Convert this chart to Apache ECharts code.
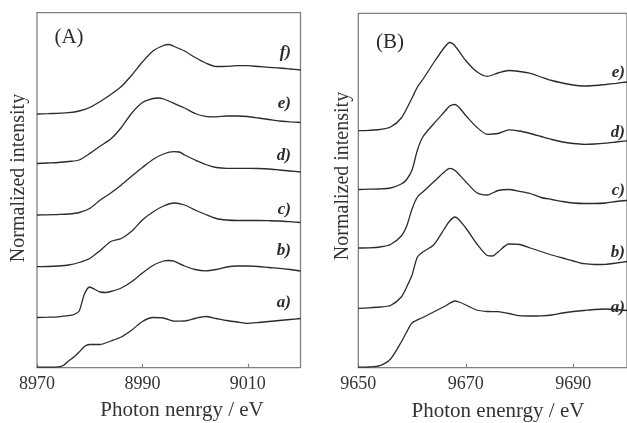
<!DOCTYPE html>
<html>
<head>
<meta charset="utf-8">
<script src="https://cdn.jsdelivr.net/npm/echarts@6/dist/echarts.min.js"></script>
<style>
  html, body { margin: 0; padding: 0; background: #fff; }
  #chart { width: 627px; height: 423px; }
</style>
</head>
<body>
<div id="chart"></div>
<script>
// Cu K-edge spectra, panel (A): [photon energy (eV), stacked normalized intensity]
const cuA = [[8970,0.5],[8972,0.5],[8974,0.8],[8975,2.2],[8976,6.7],[8977,10.7],[8978,15.7],[8979,21.2],[8980,23.2],[8982,23.2],[8984,26.7],[8986,30.7],[8988,37.7],[8990,46.2],[8992,50.2],[8994,49.7],[8996,46.5],[8998,46.7],[9000,49.2],[9002,51.2],[9004,49.2],[9006,47.2],[9008,45.7],[9010,44.4],[9012,45.2],[9014,46.2],[9016,47.2],[9018,48.2],[9020,49.2]];
const cuB = [[8970,50.2],[8972,50.5],[8974,50.9],[8976,52],[8977,53.2],[8978,56.7],[8979,73.7],[8980,80.7],[8981,78.2],[8982,75.7],[8983,75.2],[8984,76.2],[8986,79.7],[8988,86.2],[8990,94.7],[8992,102.2],[8994,106.7],[8995,107.2],[8996,106.5],[8998,101.7],[9000,98.2],[9002,96.9],[9004,98.2],[9006,100.7],[9008,101.7],[9010,101.7],[9012,101.2],[9014,100.2],[9016,99.4],[9018,98.2],[9020,96.7]];
const cuC = [[8970,101],[8972,101.2],[8974,101.7],[8976,102.7],[8978,105.2],[8980,109.2],[8982,117.2],[8984,126.2],[8986,129.2],[8988,136.7],[8990,147.7],[8992,155.7],[8994,161.7],[8996,164.7],[8998,162.7],[9000,157.7],[9002,153.2],[9004,149.2],[9006,147.7],[9008,147.2],[9010,147.2],[9012,147.2],[9014,147],[9016,146.7],[9018,146],[9020,145.2]];
const cuD = [[8970,152.7],[8972,152.9],[8974,153.2],[8976,153.7],[8978,155.2],[8980,159.2],[8982,167.7],[8984,174.7],[8986,182.7],[8988,191.7],[8990,200.2],[8992,208.2],[8994,213.7],[8996,216],[8997,215.7],[8998,212.7],[9000,207.7],[9002,203.2],[9004,200.2],[9006,199.4],[9008,199.4],[9010,199.4],[9012,199.2],[9014,198.7],[9016,197.7],[9018,196.7],[9020,195.7]];
const cuE = [[8970,204.2],[8972,204.7],[8974,205.2],[8976,206.2],[8978,207.7],[8980,214.2],[8982,221.7],[8984,228.7],[8986,240.2],[8988,254.7],[8990,265.2],[8992,269.2],[8993,269.7],[8994,268.7],[8996,264.4],[8998,259.7],[9000,254.2],[9002,251.4],[9004,250.9],[9006,251.7],[9008,251.7],[9010,251.2],[9012,249.7],[9014,248.2],[9016,246.7],[9018,245.9],[9020,245.2]];
const cuF = [[8970,253.7],[8972,254],[8974,254.4],[8976,255],[8978,256.7],[8980,260.2],[8982,266.2],[8984,273.2],[8986,281.2],[8988,292.7],[8990,305.7],[8992,316.7],[8994,322.2],[8995,323.2],[8996,321.2],[8998,316.7],[9000,310.2],[9002,304.7],[9004,301.2],[9006,301.4],[9008,302],[9010,302],[9012,301.2],[9014,300.4],[9016,299.7],[9018,298.7],[9020,297.7]];

// Zn K-edge spectra, panel (B)
const znA = [[9650,0.5],[9652,0.7],[9654,2],[9656,8.7],[9658,25.7],[9659,35.7],[9660,44.7],[9662,50.2],[9664,55.7],[9666,61.2],[9668,66.7],[9669,65.2],[9670,62.7],[9672,57.7],[9674,56.2],[9676,56],[9678,54.2],[9680,52],[9682,51.7],[9684,51.9],[9686,52.7],[9688,54.7],[9690,56.2],[9692,57.2],[9694,58.2],[9696,58.7],[9698,58.2],[9700,57.2]];
const znB = [[9650,59.4],[9652,59.9],[9654,60.7],[9656,62.2],[9658,70.7],[9659,80.7],[9660,92.7],[9661,110.7],[9662,115.7],[9664,122.7],[9666,138.7],[9667,146.7],[9668,150.7],[9670,139.7],[9672,124.2],[9674,112.2],[9675,111.7],[9676,115.7],[9678,123.7],[9680,123.2],[9682,119.7],[9684,116.2],[9686,112.7],[9688,109.7],[9690,106.7],[9692,104],[9694,103.2],[9696,103.4],[9698,104.7],[9700,106.2]];
const znC = [[9650,119.7],[9652,119.9],[9654,120.7],[9656,123.2],[9658,131.7],[9659,141.7],[9660,158.7],[9661,170.7],[9662,175.7],[9664,185.7],[9666,195.7],[9667,199.4],[9668,197.2],[9670,186],[9672,175.2],[9674,172.7],[9676,177.2],[9678,178.2],[9680,176.4],[9682,174.2],[9684,170.2],[9686,168.2],[9688,166.2],[9690,164.7],[9692,164.2],[9694,164.2],[9696,164.7],[9698,166.2],[9700,167.2]];
const znD = [[9650,178.2],[9652,178.5],[9654,178.7],[9656,179.7],[9658,183.7],[9659,188.2],[9660,197.7],[9661,217.7],[9662,230.7],[9664,243.7],[9666,255.7],[9667,261.7],[9668,263.2],[9670,252.2],[9672,240.7],[9674,233.4],[9676,234.2],[9678,237.9],[9680,236.7],[9682,234.2],[9684,231.2],[9686,228.2],[9688,225.7],[9690,224.2],[9692,223.4],[9694,223.7],[9696,224.5],[9698,225.7],[9700,226.9]];
const znE = [[9650,237],[9652,237.4],[9654,238.2],[9656,240.7],[9658,249.7],[9660,269.7],[9661,280.7],[9662,288.2],[9664,304.7],[9666,320.2],[9667,325.2],[9668,321.7],[9670,307.2],[9672,296.2],[9674,291.4],[9676,294.7],[9678,297.2],[9680,296.2],[9682,294.4],[9684,290.7],[9686,287.2],[9688,284.7],[9690,282.7],[9692,281.7],[9694,282.2],[9696,283.2],[9698,284.4],[9700,285.7]];

const cuCurves = [cuA, cuB, cuC, cuD, cuE, cuF];
const znCurves = [znA, znB, znC, znD, znE];
const cuNames = ['a)', 'b)', 'c)', 'd)', 'e)', 'f)'];
const znNames = ['a)', 'b)', 'c)', 'd)', 'e)'];

const cuRange = [8970, 9020];
const znRange = [9650, 9700];
const tickStep = 20;

const xTitleA = 'Photon nenrgy / eV';
const xTitleB = 'Photon enenrgy / eV';
const yTitle = 'Normalized intensity';

const SERIF = '"Liberation Serif", "DejaVu Serif", serif';
const INK = '#2b2b2b';
const FRAME = '#808080';

const chart = echarts.init(document.getElementById('chart'), null, { renderer: 'canvas' });

function xAxisFor(gridIndex, range) {
  return {
    gridIndex, type: 'value', min: range[0], max: range[1], interval: tickStep,
    axisLine: { show: false },
    axisTick: { show: true, inside: true, length: 4, lineStyle: { color: FRAME, width: 1.2 } },
    axisLabel: { show: true, showMaxLabel: false, margin: 8, fontFamily: SERIF, fontSize: 18, color: '#333',
                 formatter: v => String(v) },
    splitLine: { show: false }
  };
}
function yAxisFor(gridIndex, top) {
  return {
    gridIndex, type: 'value', min: 0, max: top,
    axisLine: { show: false }, axisTick: { show: false },
    axisLabel: { show: false }, splitLine: { show: false }
  };
}
function lineSeries(data, idx) {
  return {
    type: 'line', xAxisIndex: idx, yAxisIndex: idx, data,
    showSymbol: false, smooth: 0.25, silent: true,
    lineStyle: { color: INK, width: 1.3 }
  };
}

// labels of the individual spectra, set just above each trace's high-energy end
const cuLabelY = [303, 251, 210, 156, 104, 52.5];
const znLabelY = [307.5, 252.5, 191, 132.5, 72.5];

const texts = [];
cuNames.forEach((t, i) => texts.push({ type: 'text', x: 291, y: cuLabelY[i],
  style: { text: t, font: 'italic bold 17px ' + SERIF, fill: INK, textAlign: 'right', textVerticalAlign: 'middle' } }));
znNames.forEach((t, i) => texts.push({ type: 'text', x: 625, y: znLabelY[i],
  style: { text: t, font: 'italic bold 17px ' + SERIF, fill: INK, textAlign: 'right', textVerticalAlign: 'middle' } }));

texts.push(
  { type: 'text', x: 69, y: 37, style: { text: '(A)', font: '21px ' + SERIF, fill: INK, textAlign: 'center', textVerticalAlign: 'middle' } },
  { type: 'text', x: 390, y: 42, style: { text: '(B)', font: '21px ' + SERIF, fill: INK, textAlign: 'center', textVerticalAlign: 'middle' } },
  { type: 'text', x: 182, y: 410, style: { text: xTitleA, font: '21px ' + SERIF, fill: '#333', textAlign: 'center', textVerticalAlign: 'middle' } },
  { type: 'text', x: 498, y: 411, style: { text: xTitleB, font: '21px ' + SERIF, fill: '#333', textAlign: 'center', textVerticalAlign: 'middle' } },
  { type: 'text', x: 19, y: 178, rotation: Math.PI / 2, style: { text: yTitle, font: '20px ' + SERIF, fill: '#333', textAlign: 'center', textVerticalAlign: 'middle' } },
  { type: 'text', x: 343, y: 176, rotation: Math.PI / 2, style: { text: yTitle, font: '20px ' + SERIF, fill: '#333', textAlign: 'center', textVerticalAlign: 'middle' } }
);

chart.setOption({
  animation: false,
  backgroundColor: '#fff',
  grid: [
    { left: 37, top: 12.7, width: 263.5, height: 355, show: true, borderColor: FRAME, borderWidth: 1.3, backgroundColor: 'transparent' },
    { left: 358.3, top: 13.3, width: 271, height: 354.4, show: true, borderColor: FRAME, borderWidth: 1.3, backgroundColor: 'transparent' }
  ],
  xAxis: [xAxisFor(0, cuRange), xAxisFor(1, znRange)],
  yAxis: [yAxisFor(0, 355), yAxisFor(1, 354.4)],
  series: [
    ...cuCurves.map(d => lineSeries(d, 0)),
    ...znCurves.map(d => lineSeries(d, 1))
  ],
  graphic: texts
});
</script>
</body>
</html>
